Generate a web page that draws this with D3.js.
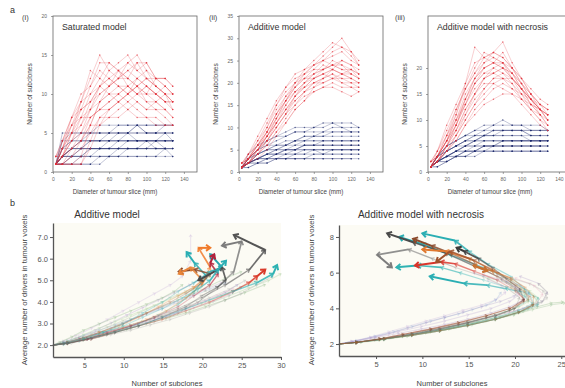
<!DOCTYPE html>
<html><head><meta charset="utf-8">
<script src="https://cdn.jsdelivr.net/npm/d3@7"></script>
<style>body{margin:0;background:#fff;} svg{display:block;font-family:Arial,"Liberation Sans",sans-serif;}</style>
</head><body><svg id="c" width="565" height="388"></svg>
<script>
// ---------- DATA: top row (number of subclones vs slice diameter) ----------
const diameters = [3,10,20,30,40,50,60,70,80,90,100,110,120,128];
const xTicksTop = [0,20,40,60,80,100,120,140];

const satRed = [
 [1,3,7,9,12,15,13,12,14,15,13,11,10,8],
 [1,2,5,8,11,13,12,11,10,12,11,10,9,9],
 [1,2,4,6,9,10,11,12,12,11,10,12,12,11],
 [1,1,1,2,6,9,10,10,11,10,9,9,8,7],
 [2,4,6,7,8,10,11,13,14,13,14,12,11,10],
 [1,3,5,7,7,8,9,10,9,10,11,10,9,9],
 [1,1,2,3,5,7,8,9,8,9,8,8,7,6],
 [1,2,3,5,8,11,12,13,12,11,12,12,12,null],
 [1,1,1,1,4,7,7,8,9,8,7,7,6,6],
 [2,3,6,9,10,12,14,13,11,10,11,10,11,10],
 [1,2,4,5,7,8,8,9,10,11,9,8,8,null],
 [1,1,3,4,6,6,7,7,8,7,7,6,6,6],
 [1,4,7,10,11,14,14,13,12,14,14,12,11,10],
 [1,2,5,9,13,12,11,12,13,12,11,10,9,8],
 [1,3,6,8,9,11,12,11,10,11,12,11,10,10],
 [2,2,3,4,6,9,11,12,13,14,12,11,10,9],
 [1,1,2,4,7,8,9,10,11,12,13,12,12,11],
 [1,2,4,7,10,11,10,9,10,9,8,9,8,7],
 [1,3,5,6,8,9,10,11,11,10,10,9,10,9],
 [1,1,1,1,3,6,8,9,10,11,10,10,9,null],
 [2,4,7,8,9,11,13,14,15,13,12,11,10,9]
];
const satBlue = [
 [1,2,3,3,3,3,3,3,3,3,3,3,3,3],
 [1,3,4,4,4,4,4,4,5,4,4,4,4,4],
 [1,2,2,2,2,3,3,3,3,3,3,3,3,null],
 [1,1,1,1,1,2,2,3,3,3,3,4,3,3],
 [1,4,5,5,5,5,5,5,5,5,5,5,5,5],
 [1,2,3,4,4,4,5,5,5,6,5,5,6,6],
 [1,2,2,2,2,2,2,2,2,2,2,2,2,2],
 [1,3,3,3,4,4,4,4,4,4,4,4,4,4],
 [1,1,2,2,3,3,3,4,4,4,4,4,5,4],
 [1,5,5,5,5,6,6,6,6,6,6,6,6,null],
 [1,2,3,3,3,3,3,3,4,4,4,4,4,4],
 [1,1,1,1,1,1,2,2,2,2,2,2,3,2],
 [1,2,3,4,5,5,5,6,6,6,5,5,5,5],
 [1,1,2,3,3,3,4,4,4,4,4,3,3,3],
 [1,3,4,4,4,4,4,5,5,5,5,5,5,5],
 [1,2,2,3,3,3,3,3,3,3,3,3,3,null],
 [1,2,3,3,4,4,4,4,4,4,4,4,4,4],
 [1,1,1,2,2,2,2,2,3,3,3,3,3,3],
 [1,4,4,5,5,5,5,5,5,6,6,6,6,6],
 [1,2,2,2,3,3,3,3,3,3,4,4,4,4]
];
const addRed = [
 [1,3,6,9,13,17,20,22,24,26,28,30,27,24],
 [1,2,5,8,11,14,17,19,21,22,23,22,21,20],
 [2,4,7,10,14,17,19,21,22,23,24,23,23,22],
 [1,2,4,7,10,13,15,18,19,20,21,21,20,19],
 [1,3,6,10,15,19,22,23,24,25,26,27,25,24],
 [1,2,4,6,9,12,15,17,18,19,20,19,19,18],
 [2,3,5,8,12,15,18,20,22,24,23,22,22,21],
 [1,2,3,5,8,11,14,16,18,19,19,18,17,18],
 [1,4,8,12,16,19,21,22,23,23,25,24,22,null],
 [1,2,5,9,13,16,19,21,23,25,27,28,26,24],
 [2,3,6,8,11,14,16,18,20,21,22,20,20,20],
 [1,3,5,7,10,13,17,20,21,22,21,22,23,21],
 [1,2,4,7,11,15,18,20,22,23,24,24,23,22],
 [1,3,6,9,12,16,19,22,24,25,24,23,22,21],
 [2,4,6,9,13,16,18,19,20,21,22,21,21,20],
 [1,2,4,6,9,11,14,16,19,21,23,25,24,23],
 [1,3,5,8,12,16,20,23,25,27,29,28,27,25],
 [1,2,5,7,10,13,16,18,20,20,21,20,19,19],
 [1,3,7,11,15,18,20,21,21,22,23,22,21,null],
 [2,3,5,8,11,14,17,19,21,23,24,25,24,22]
];
const addBlue = [
 [1,2,3,4,4,5,5,5,5,5,5,5,5,5],
 [1,3,4,5,6,6,7,7,8,8,8,8,8,8],
 [1,2,3,3,3,3,4,4,4,4,4,4,4,4],
 [1,3,5,6,7,8,9,9,10,10,11,10,10,10],
 [1,2,3,4,5,5,6,6,6,6,6,6,6,6],
 [1,1,2,2,3,3,3,3,3,3,3,3,3,3],
 [1,2,4,5,6,7,7,7,7,7,7,7,7,7],
 [1,4,6,7,8,8,9,9,9,9,10,10,9,null],
 [1,2,3,4,4,5,5,6,6,6,6,6,6,6],
 [1,2,2,3,3,4,4,4,5,5,5,5,5,5],
 [1,3,5,6,6,6,7,8,8,8,9,9,9,9],
 [1,2,3,3,4,4,5,5,5,4,5,5,5,5],
 [1,2,4,5,5,6,6,7,7,7,7,7,7,7],
 [1,3,4,5,5,5,5,6,6,6,6,6,6,6],
 [1,2,3,4,5,6,7,8,8,9,9,9,9,9],
 [1,2,2,2,3,3,3,3,4,4,4,4,4,4],
 [1,3,5,7,8,9,10,10,10,11,11,11,11,10],
 [1,2,3,4,4,4,4,5,5,5,5,5,5,5],
 [1,1,2,3,4,5,5,6,6,7,7,7,7,7],
 [1,2,3,3,3,3,3,3,3,3,3,3,3,null]
];
const necRed = [
 [1,3,7,11,16,20,23,22,21,18,15,12,10,9],
 [1,2,5,9,13,17,19,20,19,17,14,12,10,8],
 [2,4,8,12,16,19,21,22,21,19,16,13,11,10],
 [1,2,4,7,11,14,16,18,18,17,15,13,12,11],
 [1,3,6,10,15,18,20,21,23,20,17,14,12,10],
 [1,2,5,8,12,15,17,17,16,15,13,11,9,8],
 [2,3,6,9,14,18,21,23,22,20,18,15,13,12],
 [1,2,4,6,9,12,14,16,17,16,15,14,13,12],
 [1,4,9,13,17,21,22,21,20,18,16,13,11,null],
 [1,2,5,8,11,15,18,19,20,19,17,15,12,11],
 [1,3,6,11,17,24,22,23,25,21,18,15,13,12],
 [2,3,5,7,10,13,16,18,19,18,16,14,12,10],
 [1,2,5,9,14,18,20,21,20,18,16,14,12,10],
 [1,3,6,10,14,17,19,19,18,16,14,12,11,9],
 [2,4,7,10,13,16,18,19,20,19,17,15,13,11],
 [1,2,4,7,10,13,15,17,18,18,16,14,12,11],
 [1,3,7,12,16,19,22,23,22,20,17,14,11,9],
 [1,2,4,6,9,11,13,14,15,15,14,13,12,11],
 [1,3,6,9,13,17,20,21,21,19,16,14,12,null],
 [2,3,6,8,12,15,18,20,21,20,18,16,14,13]
];
const necBlue = [
 [1,2,3,4,5,5,6,6,6,6,6,6,6,6],
 [1,3,4,5,6,7,7,8,8,8,8,7,7,7],
 [1,2,2,3,3,4,4,4,4,4,4,4,4,4],
 [1,3,5,6,7,8,9,9,10,9,9,8,8,8],
 [1,2,3,4,5,5,5,5,5,5,5,5,5,5],
 [1,1,2,3,3,4,5,5,6,6,6,6,6,6],
 [1,2,4,5,6,7,7,7,7,7,7,7,7,7],
 [1,3,4,5,6,6,7,7,8,8,8,7,7,null],
 [1,2,3,4,4,4,5,5,5,5,5,5,5,5],
 [1,2,3,3,4,4,4,4,4,4,4,4,4,4],
 [1,3,5,6,7,7,8,8,8,8,8,8,8,8],
 [1,2,3,4,5,6,6,6,6,6,6,6,6,6],
 [1,2,4,5,6,6,7,7,7,7,7,6,6,6],
 [1,3,4,5,5,6,6,6,6,6,6,6,6,6],
 [1,2,3,4,5,6,7,8,8,8,8,8,8,8],
 [1,2,2,3,3,3,4,4,4,4,4,4,4,4],
 [1,3,5,6,7,8,8,9,9,9,9,9,9,8],
 [1,2,3,4,4,5,5,5,5,5,5,5,5,5],
 [1,1,2,3,4,4,5,5,6,6,6,6,6,6],
 [1,2,3,3,4,4,4,5,5,5,5,5,5,null]
];
const satYTicks = [0,5,10,15,20];
const addYTicks = [0,5,10,15,20,25,30,35];
const necYTicks = [0,5,10,15,20];

// ---------- DATA: bottom row (average drivers vs number of subclones) ----------
const addTrackX = [
 [1,2.5,4.5,7,9.5,12,14.5,17,19,20.5,19,18],
 [1,3,5,7.5,10,13,15.5,18,20,21,19.5,21],
 [1,3,5.5,8,11,14,17,20,23,26,28,24],
 [1,2.5,5,8,11,14,17,19.5,22,24,25,22.5],
 [1,3,6,9,12,15,18,21,24,26,27,28],
 [1,3,6,9,12,15,18,21,24,27,29,29.5],
 [1,2.5,4.5,7,10,13,16,18,20,21,19,17],
 [1,3,5,7,9.5,12,14.5,17,19,20,18.5,17],
 [1,2.5,5,7.5,10,12.5,15,17,19,21,22.5,21],
 [1,3,5.5,8,11,14,17,19,21,22,21,21.5],
 [1,3,6,9,12,15,18,20,22,23,22.5,19.5],
 [1,3,5,7.5,10,12.5,15,17.5,19.5,21,22,23]
];
const addTrackY = [
 [2,2.05,2.2,2.45,2.7,3.0,3.4,3.9,4.5,5.2,5.8,6.3],
 [2,2.1,2.3,2.5,2.8,3.2,3.6,4.2,4.8,5.6,6.5,6.5],
 [2,2.1,2.3,2.55,2.9,3.3,3.7,4.2,4.8,5.5,6.4,7.1],
 [2,2.05,2.25,2.5,2.8,3.1,3.5,4.0,4.7,5.4,6.8,6.6],
 [2,2.1,2.3,2.6,2.9,3.2,3.6,4.0,4.5,4.9,5.2,5.5],
 [2,2.1,2.35,2.6,2.9,3.3,3.7,4.1,4.5,4.9,5.3,5.7],
 [2,2.1,2.3,2.6,3.0,3.5,4.0,4.4,4.9,5.3,5.5,5.4],
 [2,2.1,2.3,2.6,2.9,3.3,3.8,4.3,4.7,5.0,5.6,5.3],
 [2,2.1,2.3,2.6,3.0,3.5,4.0,4.5,4.9,5.4,5.6,6.2],
 [2,2.1,2.3,2.6,2.9,3.3,3.8,4.3,4.8,5.3,5.8,6.2],
 [2,2.1,2.3,2.6,2.9,3.3,3.8,4.3,4.7,5.0,5.6,5.0],
 [2,2.1,2.3,2.6,2.9,3.3,3.7,4.2,4.6,5.0,5.5,5.9]
];
const addFaintX = [
 [1,3,5,7.5,10,12.5,15,17.5,20,22.5,25,27],
 [1,2.5,4.5,6.5,8.5,10.5,12.5,14.5,16.5,18.5,20],
 [1,3.5,6,8.5,11,13.5,16,18.5,21,23.5,25.5],
 [1,3,5.5,8,10.5,13,15.5,18,20.5,23,25.5,28],
 [1,2.5,4,6,8,10,12,14,16,17.5,18.5,18.5],
 [1,3,5,7,9.5,12,14.5,17,19.5,22,24],
 [1,3,5,7,9,11,13,15,17,19,21,23],
 [1,3,5,7,9,11,13.5,16,18.5,21,23.5,26,28.5,30],
 [1,2.5,4,6,8,10,12,14,16,18,19,20.5],
 [1,3,5.5,8,10.5,13,15.5,18,20.5,23,24.5],
 [1,3,5,7,9,11,13,15,17,19,20,21],
 [1,2.5,4.5,6.5,9,11.5,14,16.5,19,21.5,23.5,25],
 [1,3,5,7,9,11,13,15,17,19,21,23,25],
 [1,2.5,4.5,6.5,8.5,10.5,12.5,14.5,16.5,18.5,20.5,22.5],
 [1,3.5,6,8.5,11,13.5,16,18.5,21,23,25,27,29],
 [1,2,3.5,5,7,9,11,13,15,16.5,17.5]
];
const addFaintY = [
 [2,2.15,2.35,2.6,2.85,3.1,3.35,3.65,3.95,4.3,4.7,5.0],
 [2,2.15,2.4,2.7,3.05,3.4,3.75,4.1,4.45,4.8,5.1],
 [2,2.2,2.45,2.7,2.95,3.2,3.5,3.85,4.2,4.6,5.0],
 [2,2.1,2.3,2.5,2.75,3.0,3.25,3.5,3.8,4.1,4.45,4.8],
 [2,2.2,2.45,2.8,3.2,3.6,4.0,4.4,4.8,5.2,5.9,7.1],
 [2,2.1,2.3,2.5,2.75,3.0,3.3,3.6,3.95,4.3,4.6],
 [2,2.2,2.45,2.7,2.95,3.2,3.45,3.7,4.0,4.3,4.6,4.9],
 [2,2.1,2.25,2.45,2.65,2.85,3.1,3.35,3.65,3.95,4.3,4.65,5.0,5.3],
 [2,2.1,2.3,2.55,2.85,3.15,3.5,3.85,4.2,4.5,4.7,4.5],
 [2,2.1,2.3,2.55,2.8,3.05,3.35,3.7,4.05,4.45,4.8],
 [2,2.2,2.5,2.8,3.1,3.4,3.7,4.0,4.3,4.6,4.9,5.2],
 [2,2.1,2.3,2.5,2.7,2.95,3.2,3.45,3.75,4.05,4.35,4.7],
 [2,2.15,2.35,2.6,2.9,3.2,3.5,3.8,4.1,4.4,4.75,5.1,5.4],
 [2,2.1,2.3,2.55,2.8,3.1,3.4,3.7,4.0,4.3,4.6,4.9],
 [2,2.1,2.3,2.5,2.7,2.95,3.2,3.5,3.8,4.1,4.4,4.8,5.2],
 [2,2.15,2.4,2.7,3.0,3.3,3.6,3.9,4.2,4.5,4.8]
];
const necTrackX = [
 [1,3,6,9,12,15,18,20.5,22,21.5,19.5,16.5,13,10,7.5],
 [1,3,6,9,12,15,18,20,21.5,21,19.5,17,15,13.5,10],
 [1,3,5.5,8,11,14,17,19.5,21,20.5,18.5,15.5,12.5,9,6.2],
 [1,3,6,9,12,15,18,20,20.5,19,16.5,13.5,11,8.5,5.1,6.7],
 [1,3,6,9,12,15,18,20.5,22,21,19,16.5,14,12,9.5,7.2],
 [1,3,5.5,8,11,14,17,19.5,21,20,18,15.5,13.5,12,9.2],
 [1,3,6,9,12,15,18,20.5,22.5,22.5,21,19,17,14.5,10.8],
 [1,3,6,9,12,15,18,20,21,20,18,15.5,13,11,9],
 [1,3,5.5,8,11,14,17,19.5,21.5,21,19.5,17.5,15,12.5,10],
 [1,3,6,9,12,15,18,20.5,22,21.5,20,18,15.5,13,11.5],
 [1,3,5.5,8,11,14,17,19.5,21,20.5,19,17.5,16,14.5,13.7],
 [1,3,6,9,12,15,18,20.5,22,22,21,19.5,17.5,15.5,17]
];
const necTrackY = [
 [2,2.1,2.3,2.55,2.8,3.1,3.5,3.9,4.3,4.9,5.6,6.3,7.0,7.6,8.0],
 [2,2.1,2.3,2.55,2.85,3.2,3.6,4.0,4.5,5.1,5.8,6.5,7.2,7.8,8.2],
 [2,2.1,2.3,2.5,2.8,3.1,3.5,3.9,4.4,5.0,5.7,6.4,7.1,7.7,8.2],
 [2,2.1,2.3,2.55,2.85,3.2,3.6,4.0,4.6,5.2,5.8,6.3,6.8,7.3,7.0,6.3],
 [2,2.1,2.3,2.5,2.75,3.05,3.4,3.8,4.2,4.7,5.2,5.6,6.0,6.3,6.4,6.3],
 [2,2.1,2.3,2.55,2.85,3.2,3.6,4.0,4.5,5.0,5.6,6.1,6.5,6.6,6.4],
 [2,2.1,2.3,2.5,2.75,3.05,3.4,3.8,4.2,4.6,4.9,5.1,5.3,5.4,5.8],
 [2,2.1,2.3,2.55,2.85,3.2,3.6,4.0,4.5,5.1,5.8,6.5,7.1,7.5,7.9],
 [2,2.1,2.3,2.55,2.85,3.2,3.6,4.0,4.5,5.0,5.6,6.2,6.8,7.2,7.3],
 [2,2.1,2.3,2.5,2.75,3.05,3.4,3.8,4.2,4.7,5.3,6.0,6.7,7.2,6.6],
 [2,2.1,2.3,2.55,2.85,3.2,3.6,4.0,4.5,5.1,5.7,6.3,6.8,7.2,7.4],
 [2,2.1,2.3,2.5,2.75,3.05,3.4,3.8,4.2,4.7,5.2,5.7,6.1,6.4,6.1]
];
const necFaintX = [
 [1,3,5.5,8,10.5,13,15.5,18,20,21.5,22.5,22,20.5],
 [1,3,5,7.5,10,12.5,15,17.5,19.5,21,21.5,20.5,18.5,16.5],
 [1,3,6,9,12,15,18,20.5,22.5,23.5,23,21.5,19.5],
 [1,3.5,6,8.5,11,13.5,16,18.5,21,22.5,24,25.2],
 [1,2.5,4.5,6.5,8.5,10.5,12.5,14.5,16.5,18,19,18.5,17],
 [1,3,5,7,9.5,12,14.5,17,19.5,21.5,22.5,23,22,20],
 [1,3,5,7,9,11,12.5,14,15.5,17,18,18.5],
 [1,3,5,7,9,11,13,15,17,19,20.5,21.5,21,19.5],
 [1,3,5.5,8,10.5,13,15.5,18,20,21.5,23,23.5,22.5],
 [1,2.5,4.5,6.5,8.5,10.5,12.5,14.5,16.5,18.5,20,20.5,19],
 [1,3,6,9,12,15,18,20.5,22,22.5,21.5,19.5,17],
 [1,2.5,5,7.5,10,12.5,15,17.5,19.5,20.5,20,18,15.5],
 [1,3,5.5,8,11,14,17,20,22,24,25.4],
 [1,3,6,9,12,15,18,21,23,23.5,22.5,20.5]
];
const necFaintY = [
 [2,2.1,2.25,2.45,2.65,2.85,3.1,3.4,3.7,4.0,4.3,4.7,5.1],
 [2,2.15,2.35,2.6,2.85,3.1,3.4,3.75,4.1,4.5,4.9,5.3,5.6,5.9],
 [2,2.1,2.3,2.55,2.8,3.1,3.45,3.8,4.2,4.6,5.0,5.4,5.7],
 [2,2.1,2.25,2.45,2.7,2.95,3.25,3.55,3.85,4.1,4.3,4.35],
 [2,2.15,2.4,2.7,3.0,3.3,3.6,3.9,4.2,4.5,4.9,5.3,5.6],
 [2,2.1,2.25,2.45,2.7,2.95,3.2,3.5,3.8,4.1,4.4,4.8,5.3,5.7],
 [2,2.2,2.45,2.7,3.0,3.3,3.5,3.7,3.95,4.2,4.5,4.9],
 [2,2.1,2.25,2.4,2.6,2.8,3.0,3.25,3.5,3.8,4.1,4.4,4.8,5.2],
 [2,2.1,2.25,2.45,2.7,2.95,3.2,3.5,3.8,4.1,4.4,4.9,5.4],
 [2,2.15,2.35,2.6,2.9,3.2,3.5,3.8,4.1,4.4,4.7,5.1,5.5],
 [2,2.1,2.3,2.5,2.75,3.05,3.4,3.8,4.2,4.6,5.0,5.4,5.7],
 [2,2.15,2.4,2.7,3.0,3.3,3.65,4.0,4.4,4.8,5.2,5.6,6.0],
 [2,2.1,2.25,2.45,2.7,3.0,3.3,3.65,3.95,4.2,4.3],
 [2,2.1,2.3,2.55,2.85,3.2,3.6,4.0,4.4,4.9,5.4,5.8]
];
const addXTicks = [5,10,15,20,25,30];
const addYTicksB = [2,3,4,5,6,7];
const necXTicks = [5,10,15,20,25];
const necYTicksB = [2,4,6,8];

// ---------- DRAWING ----------
const svg = d3.select('#c');
const RED = '#e3333d', BLUE = '#1d2a6c';

function topPanel(left, yMax, yTicks, red, blue, title, tag, tagX) {
  const top = 16, h = 156, w = 144;
  const x = d3.scaleLinear().domain([0,154]).range([left, left + w]);
  const y = d3.scaleLinear().domain([0,yMax]).range([top + h, top]);
  const g = svg.append('g');
  const line = d3.line().defined(d => d[1] != null).x(d => x(d[0])).y(d => y(d[1]));
  function draw(series, col, op) {
    series.forEach(s => {
      const pts = diameters.map((d,i) => [d, s[i]]);
      g.append('path').attr('d', line(pts)).attr('fill','none')
        .attr('stroke', col).attr('stroke-width', 0.6).attr('stroke-opacity', op);
      g.selectAll(null).data(pts.filter(p => p[1] != null)).enter().append('circle')
        .attr('cx', p => x(p[0])).attr('cy', p => y(p[1])).attr('r', 0.75)
        .attr('fill', col).attr('fill-opacity', 0.7);
    });
  }
  draw(blue, BLUE, 0.45);
  draw(red, RED, 0.4);
  g.append('rect').attr('x', left).attr('y', top).attr('width', w).attr('height', h)
    .attr('fill','none').attr('stroke','#666').attr('stroke-width',0.8);
  const ax = g.append('g').attr('transform',`translate(0,${top+h})`)
    .call(d3.axisBottom(x).tickValues(xTicksTop).tickSize(2).tickPadding(3));
  const ay = g.append('g').attr('transform',`translate(${left},0)`)
    .call(d3.axisLeft(y).tickValues(yTicks).tickSize(2).tickPadding(4));
  [ax, ay].forEach(a => {
    a.select('.domain').remove();
    a.selectAll('line').attr('stroke','#666').attr('stroke-width',0.6);
    a.selectAll('text').attr('fill','#666').attr('font-size',5).attr('font-family','Arial');
  });
  g.append('text').attr('x', left + w/2 - 10).attr('y', 194).attr('text-anchor','middle')
    .attr('font-size',6.3).attr('fill','#444').text('Diameter of tumour slice (mm)');
  g.append('text').attr('transform',`translate(${left-21},${top+h/2}) rotate(-90)`)
    .attr('text-anchor','middle').attr('font-size',6.5).attr('fill','#444').text('Number of subclones');
  g.append('text').attr('x', left + 9).attr('y', 30).attr('font-size', 8.8).attr('fill','#333').text(title);
  g.append('text').attr('x', tagX).attr('y', 20).attr('font-size', 7.5).attr('fill','#444').text(tag);
}

topPanel(53, 20, satYTicks, satRed, satBlue, 'Saturated model', '(i)', 22);
topPanel(239, 35, addYTicks, addRed, addBlue, 'Additive model', '(ii)', 209);
topPanel(428, 30, necYTicks, necRed, necBlue, 'Additive model with necrosis', '(iii)', 395);

svg.append('text').attr('x', 10).attr('y', 13).attr('font-size', 9).attr('fill','#333').text('a');
svg.append('text').attr('x', 10).attr('y', 206).attr('font-size', 9).attr('fill','#333').text('b');

const addCols = ['#2aaeb3','#f07a2a','#555555','#7c7c7c','#d93a2a','#2fb3b3','#8b4a2b','#e8853a','#27a5ad','#b3203a','#4a4a4a','#2aaeb3'];
const necCols = ['#2aaeb3','#2aaeb3','#4a4a4a','#7c7c7c','#2fb3b3','#d9342a','#2aaeb3','#8b4a2b','#e0782f','#a0522d','#3a3a3a','#c8702f'];
const faintCols = ['#7fb27a','#a58cc4','#9a9a9a','#6fa86a','#c3a6d8','#e3a3b8','#86a6d6','#8cbf80','#a2b48f','#9b86c0','#9ccf8f','#b39ad0'];

function arrowHead(g, p0, p1, col, op, sw, size) {
  const a = Math.atan2(p1[1]-p0[1], p1[0]-p0[0]);
  const s = size, da = Math.PI * 0.8;
  const pA = [p1[0] + s*Math.cos(a+da), p1[1] + s*Math.sin(a+da)];
  const pB = [p1[0] + s*Math.cos(a-da), p1[1] + s*Math.sin(a-da)];
  g.append('path').attr('d', `M${pA}L${p1}L${pB}`).attr('fill','none')
    .attr('stroke', col).attr('stroke-opacity', op).attr('stroke-width', sw)
    .attr('stroke-linejoin','miter');
}

function bottomPanel(cfg) {
  const x = d3.scaleLinear().domain(cfg.xd).range([cfg.left, cfg.right]);
  const y = d3.scaleLinear().domain(cfg.yd).range([cfg.bottom, cfg.top]);
  const g = svg.append('g');
  g.append('rect').attr('x', cfg.left).attr('y', cfg.top).attr('width', cfg.right - cfg.left)
    .attr('height', cfg.bottom - cfg.top).attr('fill', '#fcfbf4');
  function track(xs, ys, col, bold) {
    const n = xs.length;
    for (let i = 0; i < n - 1; i++) {
      const k = n - 2 - i;
      let op = 0.26, sw = 1.1, hs = 2.6;
      if (bold && k < 4) { op = [1,0.85,0.6,0.4][k]; sw = [2,1.7,1.4,1.2][k]; hs = [5.2,4.2,3.5,3][k]; }
      const p0 = [x(xs[i]), y(ys[i])], p1 = [x(xs[i+1]), y(ys[i+1])];
      g.append('path').attr('d', `M${p0}L${p1}`).attr('stroke', col).attr('stroke-opacity', op)
        .attr('stroke-width', sw).attr('fill','none');
      arrowHead(g, p0, p1, col, op, sw, hs);
    }
  }
  cfg.faintX.forEach((xs, i) => track(xs, cfg.faintY[i], faintCols[i % faintCols.length], false));
  cfg.trackX.forEach((xs, i) => track(xs, cfg.trackY[i], cfg.cols[i % cfg.cols.length], true));
  const ax = g.append('g').attr('transform', `translate(0,${cfg.bottom})`)
    .call(d3.axisBottom(x).tickValues(cfg.xt).tickSize(3).tickSizeOuter(0).tickPadding(3));
  const ay = g.append('g').attr('transform', `translate(${cfg.left},0)`)
    .call(d3.axisLeft(y).tickValues(cfg.yt).tickSize(3).tickSizeOuter(0).tickPadding(2));
  [ax, ay].forEach(a => {
    a.select('.domain').attr('stroke','#555').attr('stroke-width',1.3);
    a.selectAll('line').attr('stroke','#555').attr('stroke-width',1);
    a.selectAll('text').attr('fill','#555').attr('font-size',7.5).attr('font-family','Arial');
  });
  g.append('text').attr('x', (cfg.left + cfg.right)/2).attr('y', 386).attr('text-anchor','middle')
    .attr('font-size', 7.5).attr('fill','#444').text('Number of subclones');
  g.append('text').attr('transform', `translate(${cfg.ylabX},290) rotate(-90)`).attr('text-anchor','middle')
    .attr('font-size', 7.8).attr('fill','#444').text('Average number of drivers in tumour voxels');
  g.append('text').attr('x', cfg.titleX).attr('y', 218).attr('text-anchor','middle')
    .attr('font-size', 10).attr('fill','#333').text(cfg.title);
}

bottomPanel({left:53, right:281, top:223, bottom:357, xd:[1,30], yd:[1.45,7.65],
  xt:addXTicks, yt:addYTicksB, trackX:addTrackX, trackY:addTrackY, faintX:addFaintX, faintY:addFaintY,
  cols:addCols, ylabX:27, title:'Additive model', titleX:107});
bottomPanel({left:339, right:565, top:225, bottom:356, xd:[1,25.4], yd:[1.33,8.67],
  xt:necXTicks, yt:necYTicksB, trackX:necTrackX, trackY:necTrackY, faintX:necFaintX, faintY:necFaintY,
  cols:necCols, ylabX:314, title:'Additive model with necrosis', titleX:421});
</script></body></html>
